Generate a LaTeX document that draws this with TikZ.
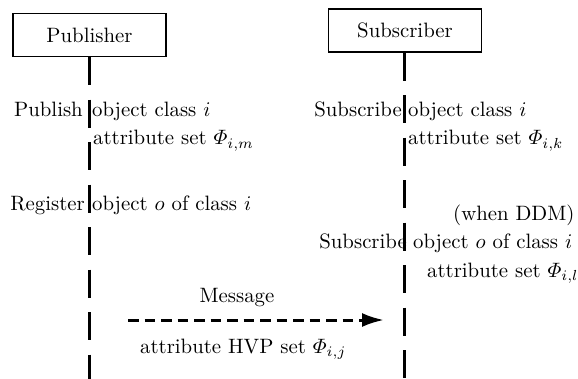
\documentclass[tikz,border=0pt]{standalone}
\usepackage{amsmath}
\usepackage{graphicx}
\usetikzlibrary{arrows.meta}
\newcommand\bigtxt[1]{\scalebox{2.08}{#1}}
\begin{document}
\begin{tikzpicture}[x=1pt,y=-1pt,
  actor/.style={draw,line width=1.2pt,minimum width=153pt,minimum height=43pt,inner sep=0},
  lbl/.style={inner sep=0},
  lifeline/.style={line width=3pt,dash pattern=on 28pt off 14.5pt},
  msg/.style={line width=3pt,dash pattern=on 10.5pt off 6pt,-{Latex[length=22pt,width=14pt]}}]
\useasboundingbox (0,0) rectangle (578,379);
% actors
\node[actor] (pub) at (89.5,35) {\bigtxt{Publisher}};
\node[actor] (sub) at (405,30.5) {\bigtxt{Subscriber}};
\coordinate (pubend) at (89,379);
\coordinate (subend) at (404,379);
\draw[lifeline] (pub.south -| pubend) -- (pubend);
\draw[lifeline] (sub.south -| subend) -- (subend);
% publisher texts
\node[lbl,anchor=base east] (t1) at (83,117) {\bigtxt{Publish}};
\node[lbl,anchor=base west] (t2) at (92,117) {\bigtxt{object class $i$}};
\node[lbl,anchor=base west] (t3) at (93,145) {\bigtxt{attribute set $\varPhi_{i,m}$}};
\node[lbl,anchor=base east] (t4) at (85,211) {\bigtxt{Register}};
\node[lbl,anchor=base west] (t5) at (92,211) {\bigtxt{object $o$ of class $i$}};
% subscriber texts
\node[lbl,anchor=base east] (s1) at (402,117) {\bigtxt{Subscribe}};
\node[lbl,anchor=base west] (s2) at (408,117) {\bigtxt{object class $i$}};
\node[lbl,anchor=base west] (s3) at (408,145) {\bigtxt{attribute set $\varPhi_{i,k}$}};
\node[lbl,anchor=base west] (s4) at (453,221) {\bigtxt{(when DDM)}};
\node[lbl,anchor=base east] (s5) at (407,249) {\bigtxt{Subscribe}};
\node[lbl,anchor=base west] (s6) at (413,249) {\bigtxt{object $o$ of class $i$}};
\node[lbl,anchor=base west] (s7) at (427,277) {\bigtxt{attribute set $\varPhi_{i,l}$}};
% message
\coordinate (ma) at (128,320);
\coordinate (mb) at (384,320);
\draw[msg] (ma) -- (mb);
\node[lbl,anchor=base] (m1) at (237,302) {\bigtxt{Message}};
\node[lbl,anchor=base west] (m2) at (140,353) {\bigtxt{attribute HVP set $\varPhi_{i,j}$}};
\end{tikzpicture}
\end{document}
